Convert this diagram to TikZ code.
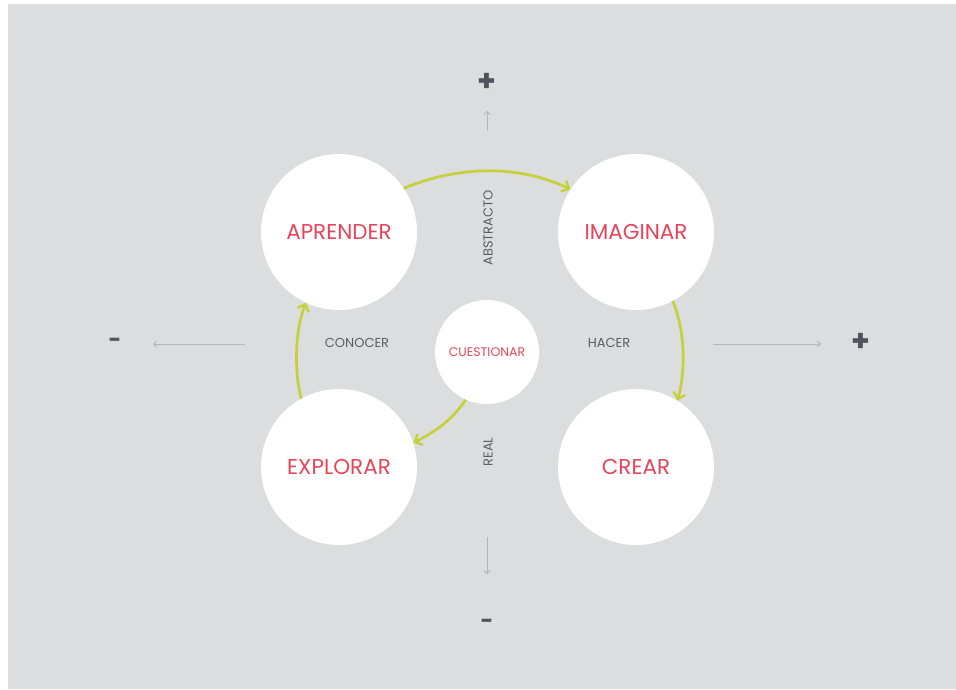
\documentclass[tikz,border=0pt]{standalone}
\usepackage{fontspec}
\setmainfont{Poppins}
\usetikzlibrary{arrows.meta}
\definecolor{bg}{HTML}{DCDDDF}
\definecolor{lime}{HTML}{C5D13A}
\definecolor{redtxt}{HTML}{E8455A}
\definecolor{axis}{HTML}{B4B6BA}
\definecolor{dark}{HTML}{4F535C}
\definecolor{lbl}{HTML}{5B5F66}
\tikzset{
  bigc/.style={circle,fill=white,minimum size=156pt,inner sep=0pt,text=redtxt,font=\fontsize{21.5}{24}\selectfont},
  smallc/.style={circle,fill=white,minimum size=104pt,inner sep=0pt,text=redtxt,font=\fontsize{12.5}{14}\selectfont},
  flow/.style={draw=lime,line width=2.7pt,-{Straight Barb[length=6pt,width=12pt,line width=2.4pt]}},
  axisarrow/.style={draw=axis,line width=0.9pt,-{Straight Barb[length=3pt,width=6pt]}},
  lab/.style={text=lbl,font=\fontsize{13}{15}\selectfont},
  sign/.style={text=dark,font=\fontsize{30}{32}\selectfont\bfseries},
  msign/.style={text=dark,font=\fontsize{22}{24}\selectfont\bfseries}
}
\begin{document}
\begin{tikzpicture}[x=1pt,y=-1pt]
\useasboundingbox (0,0) rectangle (956,689);
\fill[white] (0,0) rectangle (956,689);
\fill[bg] (8,4) rectangle (956,689);
\node[bigc] (ap) at (339,232) {APRENDER};
\node[bigc] (im) at (636,232) {IMAGINAR};
\node[bigc] (ex) at (339,467) {EXPLORAR};
\node[bigc] (cr) at (636,467) {CREAR};
\node[smallc] (cu) at (487,352) {CUESTIONAR};
\draw[flow] (ap.34) .. controls (460,165) and (520,165) .. (im.147);
\draw[flow] (ex.119) .. controls (294,370) and (295,330) .. (ap.245);
\draw[flow] (im.-62) .. controls (685,330) and (686,370) .. (cr.58);
\draw[flow] (cu.246) .. controls (452,420) and (435,432) .. (ex.18);
\node[lab] (conocer) at (357,343) {CONOCER};
\node[lab] (hacer) at (609,343) {HACER};
\node[lab,rotate=90] (abs) at (488,228) {ABSTRACTO};
\node[lab,rotate=90] (real) at (488,452) {REAL};
\coordinate (l1) at (245,344); \coordinate (l2) at (153,344);
\coordinate (r1) at (713,344); \coordinate (r2) at (821,344);
\coordinate (u1) at (487,131); \coordinate (u2) at (487,111);
\coordinate (d1) at (487,537); \coordinate (d2) at (487,574);
\draw[axisarrow] (l1) -- (l2);
\draw[axisarrow] (r1) -- (r2);
\draw[axisarrow] (u1) -- (u2);
\draw[axisarrow] (d1) -- (d2);
\node[msign] (mL) at (115,343) {-};
\node[sign] (pR) at (861,342) {+};
\node[sign] (pU) at (487,82) {+};
\node[msign] (mD) at (487,624) {-};
\end{tikzpicture}
\end{document}
